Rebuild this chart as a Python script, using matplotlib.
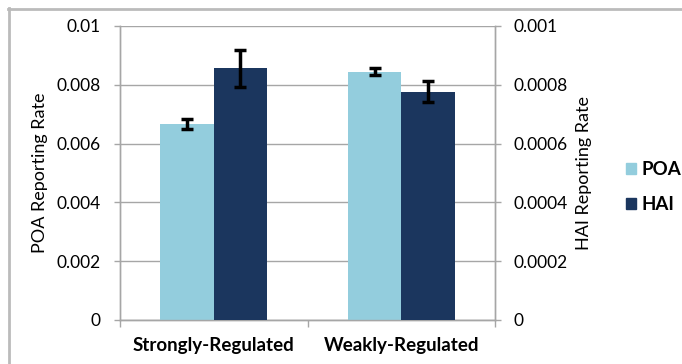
#!/usr/bin/env python3
# -*- coding: utf-8 -*-
"""Bieu do ty le bao cao POA / HAI theo muc do quan ly (2 truc y)."""
import matplotlib
matplotlib.use("Agg")
import matplotlib.pyplot as plt
from matplotlib.patches import Patch
from matplotlib.lines import Line2D

# ------- du lieu -------
categories = ["Strongly-Regulated", "Weakly-Regulated"]
poa_rate = [0.00666, 0.00845]
poa_err = [0.00018, 0.00012]
hai_rate = [0.000856, 0.000777]
hai_err = [0.000062, 0.000036]
left_ticks = [0, 0.002, 0.004, 0.006, 0.008, 0.01]
left_labels = ["0", "0.002", "0.004", "0.006", "0.008", "0.01"]
right_ticks = [0, 0.0002, 0.0004, 0.0006, 0.0008, 0.001]
right_labels = ["0", "0.0002", "0.0004", "0.0006", "0.0008", "0.001"]

C_POA = "#93CDDD"
C_HAI = "#1B365E"
GRID = "#A6A6A6"
FONT = "Lato"

W, H = 682, 364
fig = plt.figure(figsize=(W / 100, H / 100), dpi=100)
plt.rcParams["font.family"] = [FONT, "DejaVu Sans"]

ax = fig.add_axes([120 / W, (H - 320) / H, 375 / W, 294 / H])
ax2 = ax.twinx()

x = list(range(len(categories)))
bw = 0.285
ax.bar([i - bw / 2 for i in x], poa_rate, bw, color=C_POA, zorder=3)
ax.errorbar([i - bw / 2 for i in x], poa_rate, yerr=poa_err, fmt="none",
            ecolor="black", elinewidth=2.5, capsize=4, capthick=2.5, zorder=4)
ax2.bar([i + bw / 2 for i in x], hai_rate, bw, color=C_HAI, zorder=3)
ax2.errorbar([i + bw / 2 for i in x], hai_rate, yerr=hai_err, fmt="none",
             ecolor="black", elinewidth=2.5, capsize=4, capthick=2.5, zorder=4)

ax.set_xlim(-0.5, len(categories) - 0.5)
ax.set_ylim(0, 0.01)
ax2.set_ylim(0, 0.001)

ax.set_yticks(left_ticks)
ax.set_yticklabels(left_labels, fontsize=12.5)
ax2.set_yticks(right_ticks)
ax2.set_yticklabels(right_labels, fontsize=12.5)

# truc x: vach o ranh gioi nhom, nhan o giua
ax.set_xticks([-0.5, 0.5, 1.5])
ax.set_xticklabels([])
ax.set_xticks(x, minor=True)
ax.set_xticklabels(categories, minor=True, fontsize=13.5, fontweight="bold")
ax.tick_params(axis="x", which="major", length=5, color=GRID, width=1)
ax.tick_params(axis="x", which="minor", length=0, pad=12)
ax.tick_params(axis="y", length=4.3, color=GRID, width=1, pad=9.4)
ax2.tick_params(axis="y", length=4.3, color=GRID, width=1, pad=9.2)

ax.grid(axis="y", color=GRID, lw=1, zorder=0)
ax.set_axisbelow(True)
for a in (ax, ax2):
    a.spines["top"].set_visible(False)
    for s in ("left", "right", "bottom"):
        a.spines[s].set_color(GRID)
        a.spines[s].set_linewidth(1)

ax.set_ylabel("POA Reporting Rate", fontsize=13, labelpad=6)
ax2.set_ylabel("HAI Reporting Rate", fontsize=13, rotation=90, labelpad=6)

h = [Patch(color=C_POA, label="POA"), Patch(color=C_HAI, label="HAI")]
leg = fig.legend(handles=h, loc="center left",
                 bbox_to_anchor=(626 / W, 1 - 187 / H), frameon=False,
                 borderpad=0, borderaxespad=0,
                 handlelength=0.55, handleheight=0.55, handletextpad=0.3,
                 labelspacing=0.95, prop={"family": FONT, "weight": "bold",
                                          "size": 13.5})

# khung ngoai
fig.add_artist(Line2D([8.5 / W, 8.5 / W], [0, 1 - 8 / H], color="#BBBBBB",
                      lw=2, transform=fig.transFigure))
fig.add_artist(Line2D([8 / W, 1], [1 - 8.5 / H, 1 - 8.5 / H], color="#BBBBBB",
                      lw=2, transform=fig.transFigure))

fig.savefig("out.png", dpi=100)
